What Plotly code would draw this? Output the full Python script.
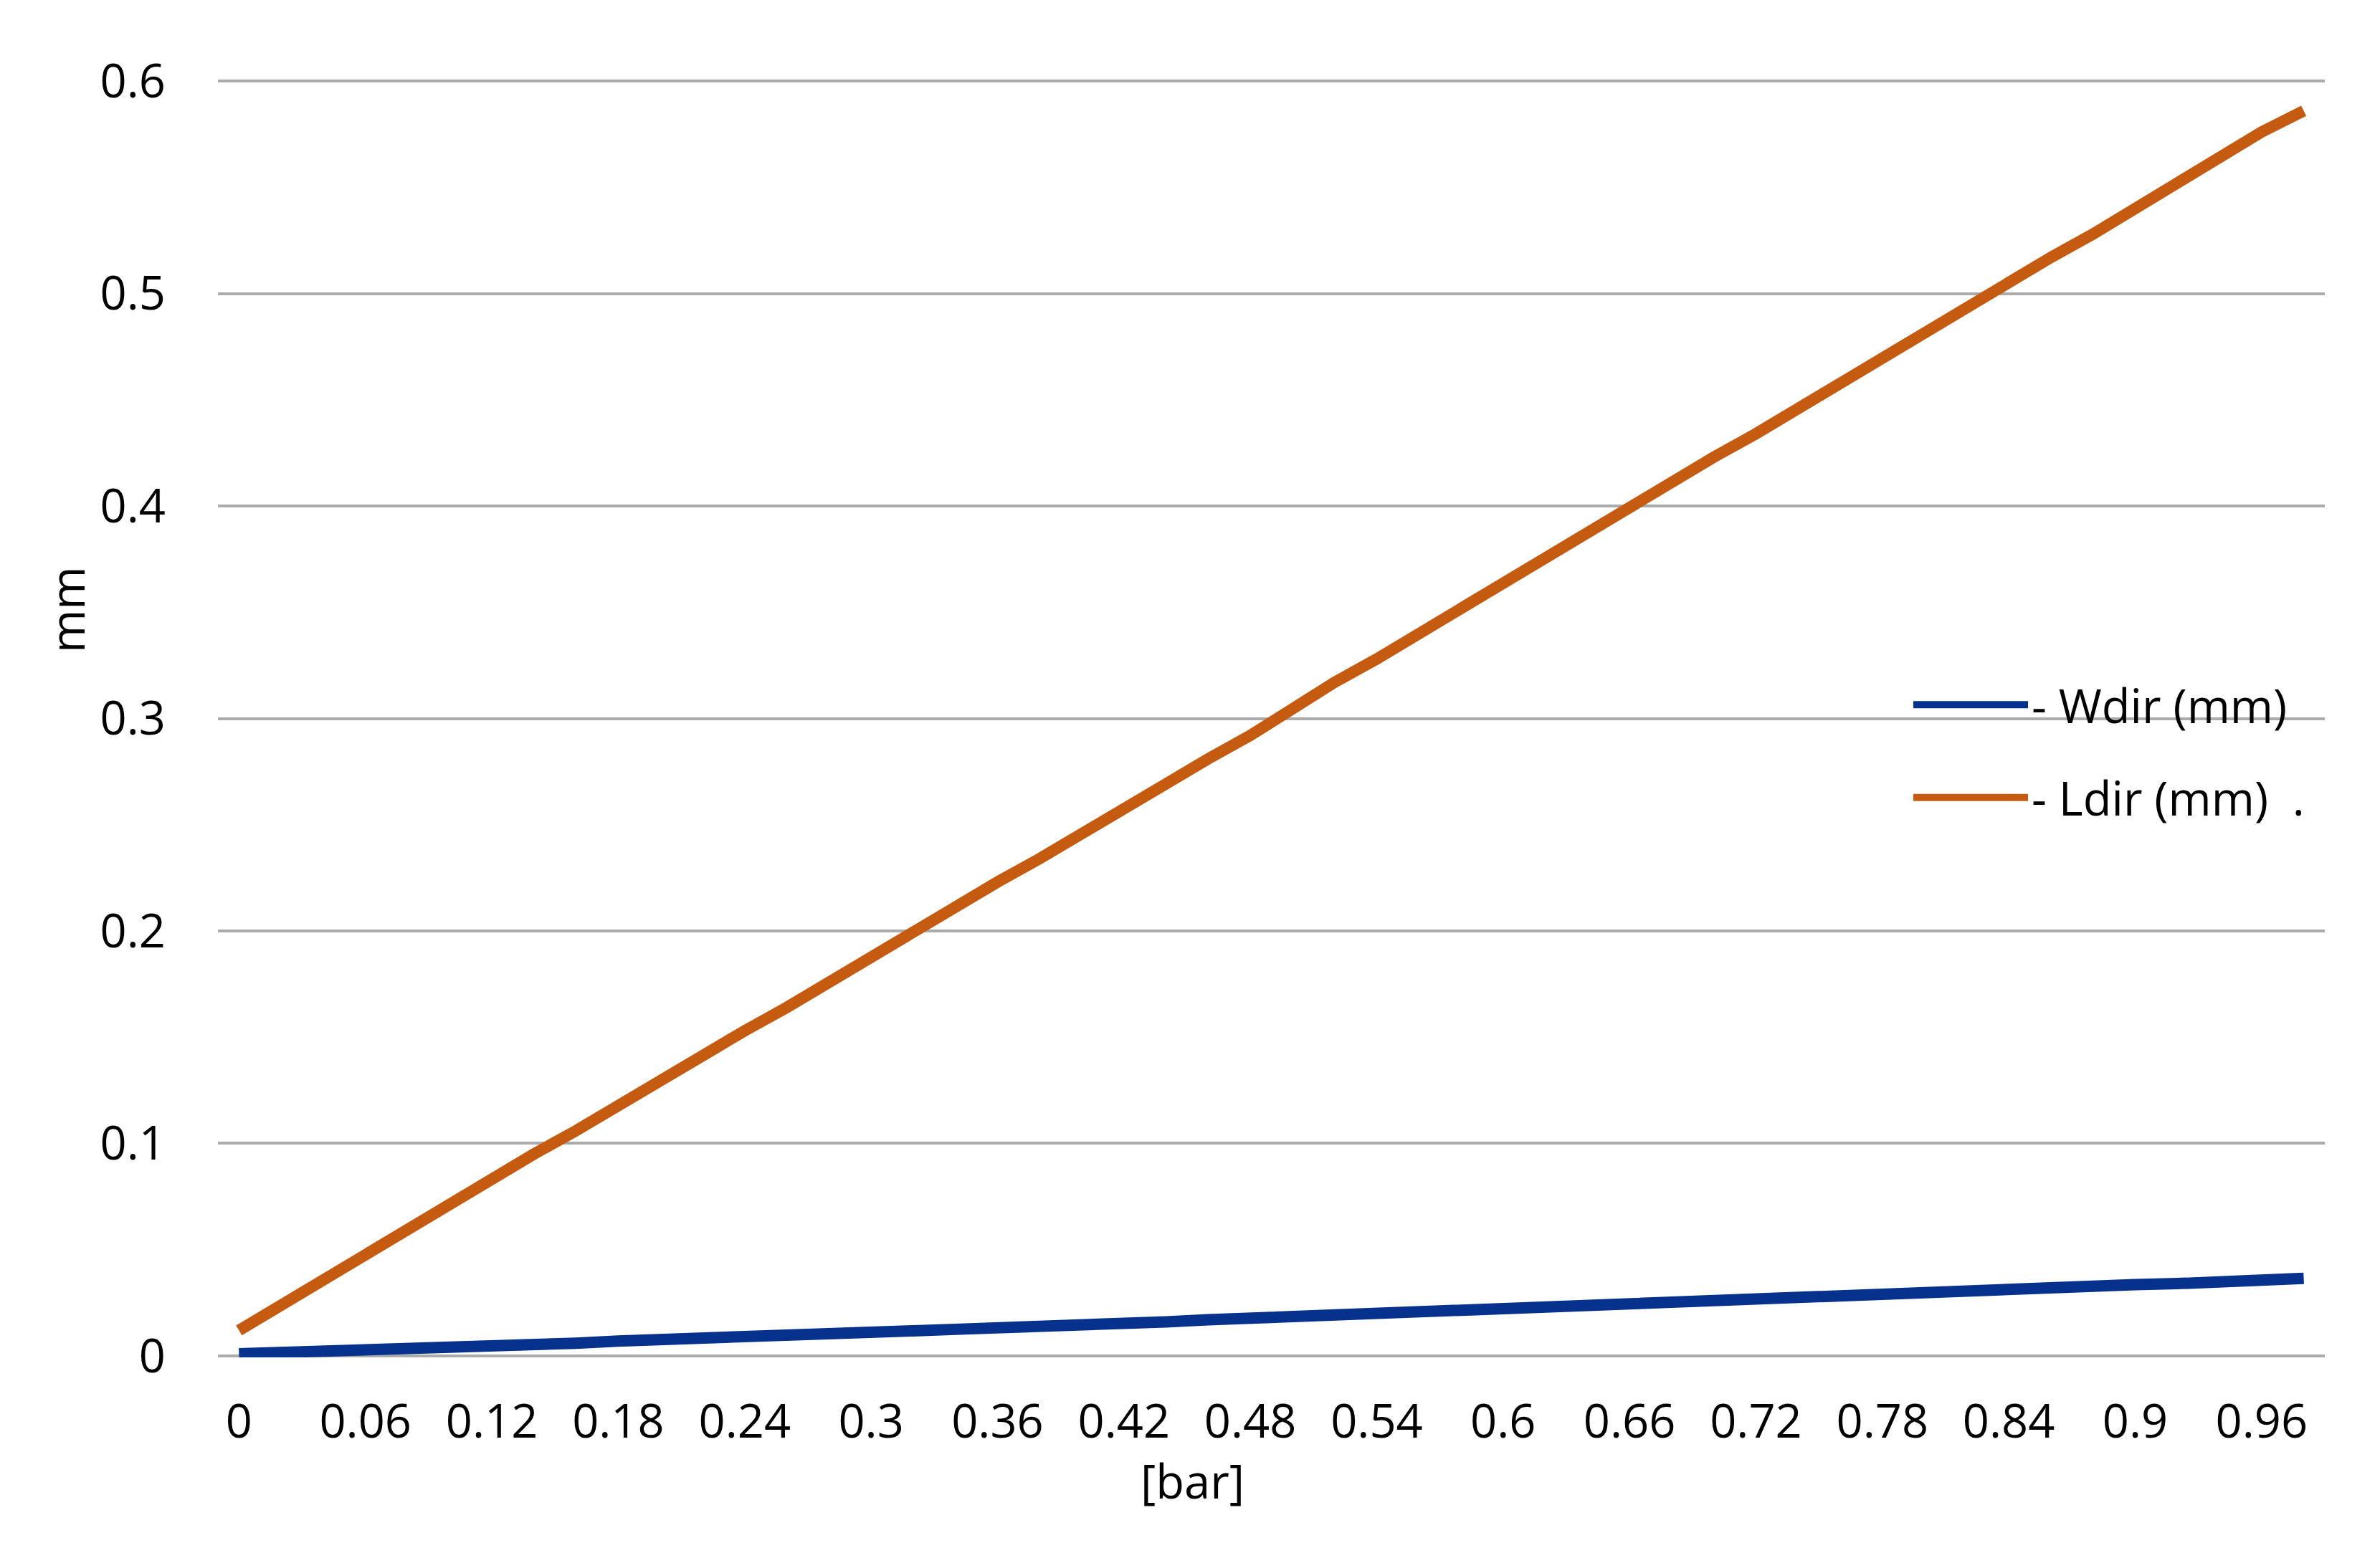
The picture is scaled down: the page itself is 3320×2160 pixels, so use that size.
"""Displacement vs pressure, Wdir / Ldir."""

import plotly.graph_objects as go

# pressure steps [bar], 0 .. 0.98
pressure = [
    0.00, 0.02, 0.04, 0.06, 0.08, 0.10, 0.12, 0.14, 0.16, 0.18,
    0.20, 0.22, 0.24, 0.26, 0.28, 0.30, 0.32, 0.34, 0.36, 0.38,
    0.40, 0.42, 0.44, 0.46, 0.48, 0.50, 0.52, 0.54, 0.56, 0.58,
    0.60, 0.62, 0.64, 0.66, 0.68, 0.70, 0.72, 0.74, 0.76, 0.78,
    0.80, 0.82, 0.84, 0.86, 0.88, 0.90, 0.92, 0.94, 0.96, 0.98,
]

wdir = [
    0.0010, 0.0015, 0.0020, 0.0030, 0.0035, 0.0040, 0.0050, 0.0055, 0.0060, 0.0070,
    0.0075, 0.0080, 0.0090, 0.0095, 0.0100, 0.0110, 0.0118, 0.0125, 0.0130, 0.0140,
    0.0148, 0.0155, 0.0160, 0.0170, 0.0178, 0.0185, 0.0190, 0.0200, 0.0208, 0.0215,
    0.0220, 0.0230, 0.0238, 0.0245, 0.0250, 0.0260, 0.0268, 0.0275, 0.0280, 0.0290,
    0.0298, 0.0305, 0.0310, 0.0320, 0.0328, 0.0335, 0.0340, 0.0350, 0.0358, 0.0365,
]

ldir = [
    0.012, 0.024, 0.036, 0.048, 0.059, 0.071, 0.083, 0.095, 0.106, 0.118,
    0.130, 0.141, 0.153, 0.164, 0.176, 0.188, 0.199, 0.211, 0.223, 0.234,
    0.246, 0.257, 0.269, 0.281, 0.292, 0.305, 0.317, 0.328, 0.340, 0.352,
    0.364, 0.376, 0.388, 0.400, 0.411, 0.423, 0.434, 0.446, 0.458, 0.470,
    0.481, 0.493, 0.505, 0.517, 0.528, 0.540, 0.552, 0.564, 0.576, 0.586,
]

x_ticks = [0, 0.06, 0.12, 0.18, 0.24, 0.30, 0.36, 0.42, 0.48, 0.54,
           0.60, 0.66, 0.72, 0.78, 0.84, 0.90, 0.96]
x_labels = ["0", "0.06", "0.12", "0.18", "0.24", "0.3", "0.36", "0.42", "0.48",
            "0.54", "0.6", "0.66", "0.72", "0.78", "0.84", "0.9", "0.96"]
y_ticks = [0, 0.1, 0.2, 0.3, 0.4, 0.5, 0.6]

FONT = "Open Sans"
FS = 65
W, H = 3320, 2160
ML, MR, MT, MB = 296, 85, 103, 274
PW, PH = W - ML - MR, H - MT - MB
Y_PAD = 0.0007  # a hair of room so the 0 and 0.6 gridlines get drawn


def px_x(xp):
    return (xp - ML) / PW


def px_y(yp):
    return (H - MB - yp) / PH


def main():
    fig = go.Figure()
    fig.add_trace(go.Scatter(
        x=pressure, y=wdir, mode="lines", name="- Wdir (mm)",
        legendgroup="w",
        line=dict(color="#06318C", width=16),
    ))
    fig.add_trace(go.Scatter(
        x=pressure, y=ldir, mode="lines", name="- Ldir (mm)  .",
        legendgroup="l",
        line=dict(color="#C55A11", width=16),
    ))

    fig.update_layout(
        width=W, height=H,
        margin=dict(l=ML, r=MR, t=MT, b=MB),
        paper_bgcolor="white", plot_bgcolor="white",
        font=dict(family=FONT, size=FS, color="#000000"),
        showlegend=True,
        legend=dict(
            x=0.803, y=px_y(1040), xanchor="left", yanchor="middle",
            bgcolor="rgba(0,0,0,0)",
            traceorder="grouped", tracegroupgap=42,
            itemwidth=160,
            font=dict(family=FONT, size=FS, color="#000000"),
        ),
    )
    fig.update_xaxes(
        range=[-0.01, 0.99],
        tickmode="array", tickvals=x_ticks, ticktext=x_labels,
        showgrid=False, zeroline=False, showline=False,
        ticks="", ticklabelstandoff=46,
        tickfont=dict(family=FONT, size=FS),
    )
    fig.update_yaxes(
        range=[-Y_PAD, 0.6 + Y_PAD],
        tickmode="array", tickvals=y_ticks,
        showgrid=True, gridcolor="#ABABAB", gridwidth=4,
        zeroline=False, showline=False,
        ticks="", ticklabelstandoff=72,
        tickfont=dict(family=FONT, size=FS),
    )
    # axis titles sit where the original put them, not centred on the plot
    fig.add_annotation(
        text="mm", xref="paper", yref="paper",
        x=px_x(85), y=px_y(843), textangle=-90,
        xanchor="center", yanchor="middle", showarrow=False,
        font=dict(family=FONT, size=FS, color="#000000"),
    )
    fig.add_annotation(
        text="[bar]", xref="paper", yref="paper",
        x=px_x(1655), y=px_y(2058),
        xanchor="center", yanchor="middle", showarrow=False,
        font=dict(family=FONT, size=FS, color="#000000"),
    )

    fig.write_html("out.html")


if __name__ == "__main__":
    main()
